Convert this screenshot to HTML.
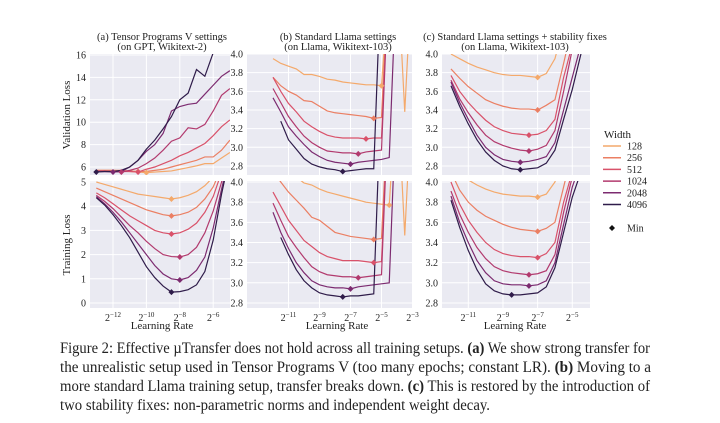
<!DOCTYPE html>
<html><head><meta charset="utf-8"><style>
html,body{margin:0;padding:0;background:#fff}
svg{display:block}
text{font-family:"Liberation Serif",serif;fill:#222}
</style></head><body>
<svg id="fig" width="720" height="423" viewBox="0 0 720 423">
<g id="panels"></g>
<g font-size="15.5">
<text x="60" y="353" textLength="590" lengthAdjust="spacingAndGlyphs" style="font-size:15.5px">Figure 2: Effective µTransfer does not hold across all training setups. <tspan font-weight="bold">(a)</tspan> We show strong transfer for</text>
<text x="60" y="372" textLength="591" lengthAdjust="spacingAndGlyphs" style="font-size:15.5px">the unrealistic setup used in Tensor Programs V (too many epochs; constant LR). <tspan font-weight="bold">(b)</tspan> Moving to a</text>
<text x="60" y="391" textLength="590" lengthAdjust="spacingAndGlyphs" style="font-size:15.5px">more standard Llama training setup, transfer breaks down. <tspan font-weight="bold">(c)</tspan> This is restored by the introduction of</text>
<text x="60" y="410" textLength="430" lengthAdjust="spacingAndGlyphs" style="font-size:15.5px">two stability fixes: non-parametric norms and independent weight decay.</text>
</g>
</svg>
<script>
const widths = ["128","256","512","1024","2048","4096"];
const colors = ["#f4a96b","#eb7f63","#d9526a","#b23a6e","#7c2b70","#2f1c4a"];
const xsA = [-13,-12.5,-12,-11.5,-11,-10.5,-10,-9.5,-9,-8.5,-8,-7.5,-7,-6.5,-6,-5.5,-5];
const xsBC = [-12,-11.5,-11,-10.5,-10,-9.5,-9,-8.5,-8,-7.5,-7,-6.5,-6,-5.5,-5,-4.5,-4];
const aVal = [
[5.7,5.7,5.7,5.65,5.6,5.55,5.5,5.55,5.6,5.65,5.8,5.95,6.1,6.3,6.3,6.8,7.3],
[5.7,5.7,5.7,5.7,5.65,5.6,5.6,5.7,5.8,6.0,6.2,6.4,6.6,6.9,6.9,7.5,8.4],
[5.65,5.65,5.6,5.6,5.6,5.55,5.8,6.0,6.3,6.6,7.0,7.3,7.7,8.1,8.8,9.6,10.2],
[5.6,5.6,5.6,5.55,5.7,5.9,6.3,6.8,7.5,8.3,8.6,9.5,9.4,9.8,11.0,12.4,13.0],
[5.6,5.6,5.55,5.6,6.0,6.6,7.4,8.0,9.0,11.0,11.4,11.6,11.7,12.5,13.3,14.1,14.6],
[5.55,5.6,5.6,5.7,6.0,6.6,7.6,8.4,9.4,10.5,12.0,12.6,14.7,14.1,16.2,17.5,19.0]];
const aTrain = [
[5.0,4.9,4.8,4.7,4.6,4.5,4.45,4.4,4.35,4.3,4.35,4.45,4.6,4.85,5.2,6,7],
[4.75,4.6,4.45,4.3,4.15,4.0,3.85,3.75,3.65,3.6,3.65,3.75,3.95,4.3,4.8,5.6,6.5],
[4.55,4.35,4.1,3.85,3.6,3.4,3.2,3.0,2.9,2.85,2.9,3.05,3.3,3.75,4.4,5.4,6.5],
[4.45,4.2,3.9,3.55,3.2,2.9,2.55,2.25,2.0,1.92,1.9,2.0,2.3,2.9,3.8,5.0,6.3],
[4.4,4.1,3.75,3.35,2.9,2.45,2.0,1.55,1.2,1.0,0.95,1.05,1.35,1.9,3.1,4.7,6.2],
[4.35,4.05,3.65,3.2,2.7,2.1,1.5,1.05,0.7,0.45,0.47,0.55,0.75,1.3,2.6,4.5,6.1]];
const bVal = [
[3.95,3.9,3.87,3.84,3.78,3.78,3.76,3.73,3.72,3.7,3.69,3.68,3.67,3.67,3.66,4.8,null],
[3.75,3.66,3.6,3.56,3.5,3.49,3.44,3.39,3.37,3.36,3.35,3.34,3.33,3.31,3.32,5.0,null],
[3.75,3.6,3.47,3.38,3.28,3.22,3.17,3.13,3.11,3.1,3.1,3.1,3.09,3.1,3.1,5.0,null],
[3.63,3.48,3.33,3.22,3.12,3.05,3.0,2.96,2.95,2.94,2.94,2.93,2.95,2.96,2.97,5.0,null],
[3.53,3.38,3.22,3.12,3.03,2.95,2.9,2.86,2.84,2.83,2.82,2.84,2.85,2.86,2.87,2.89,5.0],
[null,3.28,3.08,2.98,2.88,2.82,2.79,2.77,2.76,2.74,2.75,2.76,2.77,2.77,5.0,null,null]];
const bTrain = [
[4.3,4.2,4.12,4.05,3.99,3.97,3.93,3.9,3.88,3.86,3.84,3.82,3.8,3.79,3.78,3.77,5.0],
[4.1,4.0,3.9,3.82,3.74,3.65,3.62,3.56,3.5,3.48,3.46,3.45,3.44,3.43,3.44,5.0,null],
[3.9,3.76,3.62,3.52,3.42,3.36,3.3,3.26,3.24,3.22,3.22,3.22,3.21,3.2,3.21,5.0,null],
[3.79,3.62,3.46,3.35,3.25,3.16,3.11,3.08,3.07,3.06,3.06,3.05,3.06,3.07,3.08,5.0,null],
[3.7,3.5,3.34,3.2,3.1,3.02,2.98,2.96,2.95,2.95,2.94,2.96,2.97,2.98,2.99,3.0,5.0],
[null,3.45,3.28,3.13,3.02,2.95,2.9,2.88,2.87,2.86,2.87,2.87,2.88,2.89,5.0,null,null]];
const spikeX = [-4,-3.5,-3];
const bSpikeVal = [5.0,3.38,5.0];
const bSpikeTrain = [5.0,3.47,5.0];
const cVal = [
[4.0,3.95,3.9,3.86,3.83,3.8,3.78,3.77,3.77,3.76,3.75,3.79,3.95,4.3,null,null,null],
[3.84,3.74,3.65,3.58,3.51,3.47,3.44,3.42,3.41,3.41,3.4,3.45,3.51,3.9,4.3,null,null],
[3.77,3.6,3.48,3.38,3.29,3.22,3.18,3.15,3.14,3.13,3.14,3.18,3.3,3.75,4.1,null,null],
[3.72,3.52,3.37,3.24,3.13,3.06,3.02,2.99,2.97,2.96,2.98,3.02,3.18,3.6,4.05,null,null],
[3.7,3.48,3.3,3.13,3.0,2.92,2.87,2.85,2.84,2.85,2.87,2.9,3.05,3.4,3.75,4.1,null],
[3.66,3.44,3.25,3.08,2.95,2.86,2.8,2.77,2.76,2.77,2.78,2.83,2.97,3.3,3.62,4.0,4.3]];
const cTrain = [
[4.3,4.12,4.02,3.97,3.93,3.9,3.88,3.87,3.86,3.86,3.85,3.88,4.0,4.3,null,null,null],
[4.1,3.92,3.8,3.72,3.66,3.62,3.58,3.55,3.53,3.52,3.51,3.54,3.6,3.95,4.3,null,null],
[4.0,3.78,3.62,3.5,3.4,3.33,3.29,3.27,3.26,3.26,3.25,3.29,3.4,3.8,4.1,null,null],
[3.91,3.68,3.5,3.35,3.24,3.16,3.12,3.1,3.09,3.08,3.09,3.12,3.28,3.7,4.05,null,null],
[3.86,3.6,3.4,3.22,3.1,3.02,2.99,2.98,2.98,2.97,2.98,3.02,3.2,3.58,3.95,4.2,null],
[3.82,3.55,3.32,3.13,2.99,2.92,2.89,2.88,2.88,2.89,2.9,2.96,3.15,3.5,3.85,4.1,null]];
const aValTicks = [6,8,10,12,14,16];
const aTrainTicks = [0,1,2,3,4,5];
const llamaTicks = [2.8,3.0,3.2,3.4,3.6,3.8,4.0];
const aXTicks = [-12,-10,-8,-6];
const bXTicks = [-11,-9,-7,-5,-3];
const cXTicks = [-11,-9,-7,-5];

const NS = "http://www.w3.org/2000/svg";
const root = document.getElementById("panels");
function mk(tag, attrs, parent){const e=document.createElementNS(NS,tag);for(const k in attrs)e.setAttribute(k,attrs[k]);(parent||root).appendChild(e);return e;}
let clipId=0;
function panel(name,x0,x1,y0,y1,xf,yf,yTicks,xTicks,xs,series,spike,showX){
  const g=mk("g",{});
  
  
  const bg=mk("rect",{x:x0,y:y0,width:x1-x0,height:y1-y0,fill:"#eaeaf2"},g);
  
  
  yTicks.forEach(t=>{
    const y=yf(t);
    const l=mk("line",{x1:x0,x2:x1,y1:y,y2:y,stroke:"#fff","stroke-width":1},g);
    
    
    const tx=mk("text",{x:x0-4,y:y+3.5,"text-anchor":"end","font-size":"10"},g);
    tx.textContent=(t%1===0 && yTicks[1]-yTicks[0]>=1)?String(t):t.toFixed(1);
    
    
  });
  xTicks.forEach(t=>{
    const x=xf(t);
    const l=mk("line",{x1:x,x2:x,y1:y0,y2:y1,stroke:"#fff","stroke-width":1},g);
    
    
    if(showX){
      const tx=mk("text",{x:x,y:y1+13,"text-anchor":"middle","font-size":"10"},g);
      
      
      tx.appendChild(document.createTextNode("2"));
      const s=mk("tspan",{dy:"-4","font-size":"7"},tx);
      s.textContent="−"+Math.abs(t);
    }
  });
  const cid="clip"+(clipId++);
  const cp=mk("clipPath",{id:cid},g);
  mk("rect",{x:x0,y:y0,width:x1-x0,height:y1-y0},cp);
  const lg=mk("g",{"clip-path":"url(#"+cid+")"},g);
  series.forEach((vals,i)=>{
    let d="";let pen=false;
    vals.forEach((v,j)=>{
      if(v===null){pen=false;return;}
      d+=(pen?"L":"M")+xf(xs[j]).toFixed(2)+","+yf(v).toFixed(2);pen=true;
    });
    const p=mk("path",{d:d,fill:"none",stroke:colors[i],"stroke-width":1.2},lg);
    
    
  });
  if(spike){
    let d="";spike.forEach((v,j)=>{d+=(j?"L":"M")+xf(spikeX[j]).toFixed(2)+","+yf(v).toFixed(2);});
    const p=mk("path",{d:d,fill:"none",stroke:colors[0],"stroke-width":1.2},lg);
    
    
  }
  series.forEach((vals,i)=>{
    let bi=-1;vals.forEach((v,j)=>{if(v!==null&&(bi<0||v<vals[bi]))bi=j;});
    const cx=xf(xs[bi]),cy=yf(vals[bi]);
    const m=mk("path",{d:`M${cx},${cy-3}L${cx+3},${cy}L${cx},${cy+3}L${cx-3},${cy}Z`,fill:colors[i]},lg);
    
    
  });
}
function txt(name,x,y,s,size,extra){const t=mk("text",Object.assign({x:x,y:y,"text-anchor":"middle","font-size":size},extra||{}));t.textContent=s;return t;}

const xA=l=>113+(l+12)*16.7, xB=l=>288.5+(l+11)*15.5, xC=l=>468.3+(l+11)*17.33;
const yAv=v=>167-(v-6)*11.2, yAt=v=>303-v*24.2;
const yLv=v=>54+(4-v)*93.3, yLt=v=>182+(4-v)*100.8;
const T0=54,T1=175,B0=181,B1=308;
panel("panel-a-validation",90,230,T0,T1,xA,yAv,aValTicks,aXTicks,xsA,aVal,null,false);
panel("panel-a-training",90,230,B0,B1,xA,yAt,aTrainTicks,aXTicks,xsA,aTrain,null,true);
panel("panel-b-validation",247,412,T0,T1,xB,yLv,llamaTicks,bXTicks,xsBC,bVal,bSpikeVal,false);
panel("panel-b-training",247,412,B0,B1,xB,yLt,llamaTicks,bXTicks,xsBC,bTrain,bSpikeTrain,true);
panel("panel-c-validation",442,590,T0,T1,xC,yLv,llamaTicks,cXTicks,xsBC,cVal,null,false);
panel("panel-c-training",442,590,B0,B1,xC,yLt,llamaTicks,cXTicks,xsBC,cTrain,null,true);

txt("panel-a-title",162,40,"(a) Tensor Programs V settings","10.5");
txt("panel-a-subtitle",162,50,"(on GPT, Wikitext-2)","10.5");
txt("panel-b-title",338,40,"(b) Standard Llama settings","10.5");
txt("panel-b-subtitle",338,50,"(on Llama, Wikitext-103)","10.5");
txt("panel-c-title",515,40,"(c) Standard Llama settings + stability fixes","10.5");
txt("panel-c-subtitle",515,50,"(on Llama, Wikitext-103)","10.5");
txt("x-axis-title-a",162,329,"Learning Rate","11");
txt("x-axis-title-b",337,329,"Learning Rate","11");
txt("x-axis-title-c",515,329,"Learning Rate","11");
txt("y-axis-title-validation",0,0,"Validation Loss","11",{transform:"translate(70,115) rotate(-90)"});
txt("y-axis-title-training",0,0,"Training Loss","11",{transform:"translate(70,245) rotate(-90)"});

const lg=mk("g",{});


const lt=mk("text",{x:604,y:138,"font-size":"11"},lg);lt.textContent="Width";


widths.forEach((w,i)=>{
  const y=146+i*11.7;
  const e=mk("g",{},lg);
  
  
  mk("line",{x1:603,x2:621,y1:y,y2:y,stroke:colors[i],"stroke-width":1.5},e);
  const t=mk("text",{x:627,y:y+3.5,"font-size":"10"},e);t.textContent=w;
});
const me=mk("g",{},lg);


mk("path",{d:"M612,225L615,228L612,231L609,228Z",fill:"#111"},me);
const mt=mk("text",{x:627,y:231.5,"font-size":"10"},me);mt.textContent="Min";
</script>
</body></html>
